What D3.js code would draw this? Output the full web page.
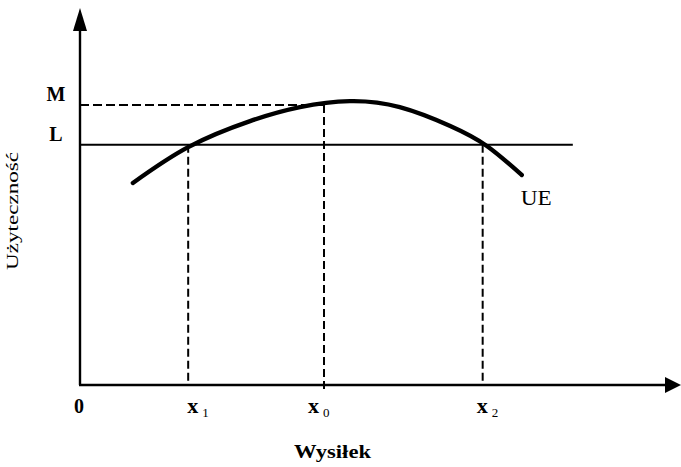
<!DOCTYPE html>
<html>
<head>
<meta charset="utf-8">
<script src="https://cdn.jsdelivr.net/npm/d3@7"></script>
<style>
  html, body { margin: 0; padding: 0; background: #fff; }
  svg { display: block; }
  text { font-family: "Liberation Serif", "Times New Roman", serif; fill: #000; }
</style>
</head>
<body>
<svg id="chart" width="681" height="467"></svg>
<script>
// ---- data ----
const curveX = [8.8, 18.0, 28.3, 36.6, 44.9, 53.2, 61.6, 67.7, 73.5];
const curveY = [53.6, 63.1, 70.0, 73.7, 75.3, 73.7, 68.7, 63.4, 55.7];
const curveName = "UE";
const levelNames = ["M", "L"];
const levelValues = [74.3, 63.7];
const effortNames = ["x", "x", "x"];
const effortSubs = ["1", "0", "2"];
const effortValues = [18.0, 40.6, 67.0];
const lineLEnd = 82.0;
const xTitle = "Wysiłek";
const yTitle = "Użyteczność";
const originLabel = "0";

// ---- layout ----
const svg = d3.select("#chart");
const x = d3.scaleLinear().domain([0, 100]).range([80, 681]);
const y = d3.scaleLinear().domain([0, 100]).range([385, 8]);

// axes
svg.append("line").attr("x1", x(0)).attr("x2", x(0)).attr("y1", y(0)).attr("y2", y(95))
  .attr("stroke", "#000").attr("stroke-width", 2.4);
svg.append("line").attr("x1", x(0) - 1).attr("x2", x(98)).attr("y1", y(0)).attr("y2", y(0))
  .attr("stroke", "#000").attr("stroke-width", 2.4);
// arrowheads
svg.append("path")
  .attr("d", `M${x(0)},${y(100)} L${x(0) - 7},${y(100) + 23} L${x(0) + 7},${y(100) + 23} Z`)
  .attr("fill", "#000");
svg.append("path")
  .attr("d", `M${x(100)},${y(0)} L${x(100) - 16},${y(0) - 8} L${x(100) - 16},${y(0) + 8} Z`)
  .attr("fill", "#000");

// dashed M line: from axis to x0
svg.append("line")
  .attr("x1", x(0)).attr("x2", x(effortValues[1]))
  .attr("y1", y(levelValues[0])).attr("y2", y(levelValues[0]))
  .attr("stroke", "#000").attr("stroke-width", 2).attr("stroke-dasharray", "9,4");
// solid L line
svg.append("line")
  .attr("x1", x(0)).attr("x2", x(lineLEnd))
  .attr("y1", y(levelValues[1])).attr("y2", y(levelValues[1]))
  .attr("stroke", "#000").attr("stroke-width", 2);

// vertical dashed lines
const topFor = [levelValues[1], levelValues[0], levelValues[1]];
effortValues.forEach((v, i) => {
  svg.append("line")
    .attr("x1", x(v)).attr("x2", x(v))
    .attr("y1", y(topFor[i])).attr("y2", y(0) + (i === 1 ? 4 : 0))
    .attr("stroke", "#000").attr("stroke-width", 2).attr("stroke-dasharray", "8,4");
});

// curve
const pts = curveX.map((v, i) => [v, curveY[i]]);
svg.append("path")
  .datum(pts)
  .attr("d", d3.line().x(d => x(d[0])).y(d => y(d[1])).curve(d3.curveNatural))
  .attr("fill", "none").attr("stroke", "#000").attr("stroke-width", 4.4)
  .attr("stroke-linecap", "round");

// level labels
levelNames.forEach((n, i) => {
  svg.append("text").attr("x", 56).attr("y", y(levelValues[i]) - 4)
    .attr("text-anchor", "middle").attr("font-size", 20).attr("font-weight", "bold")
    .text(n);
});

// curve label
svg.append("text").attr("x", x(curveX[curveX.length - 1]) - 1).attr("y", 205)
  .attr("font-size", 20).attr("textLength", 31).attr("lengthAdjust", "spacingAndGlyphs")
  .text(curveName);

// origin label
svg.append("text").attr("x", x(0) - 1).attr("y", 413).attr("text-anchor", "middle")
  .attr("font-size", 20).attr("font-weight", "bold").text(originLabel);

// effort labels
const labelOffsets = [-1, -16, -6];
effortValues.forEach((v, i) => {
  const t = svg.append("text").attr("x", x(v) + labelOffsets[i]).attr("y", 413)
    .attr("font-size", 22).attr("font-weight", "bold");
  t.append("tspan").text(effortNames[i]);
  t.append("tspan").attr("dx", 4).attr("dy", 4).attr("font-size", 13).attr("font-weight", "normal")
    .text(effortSubs[i]);
});

// axis titles
svg.append("text").attr("x", 294).attr("y", 458)
  .attr("font-size", 19).attr("font-weight", "bold")
  .attr("textLength", 77).attr("lengthAdjust", "spacingAndGlyphs")
  .text(xTitle);
svg.append("text").attr("transform", "translate(18,270) rotate(-90)")
  .attr("font-size", 17)
  .attr("textLength", 118).attr("lengthAdjust", "spacingAndGlyphs")
  .text(yTitle);
</script>
</body>
</html>
